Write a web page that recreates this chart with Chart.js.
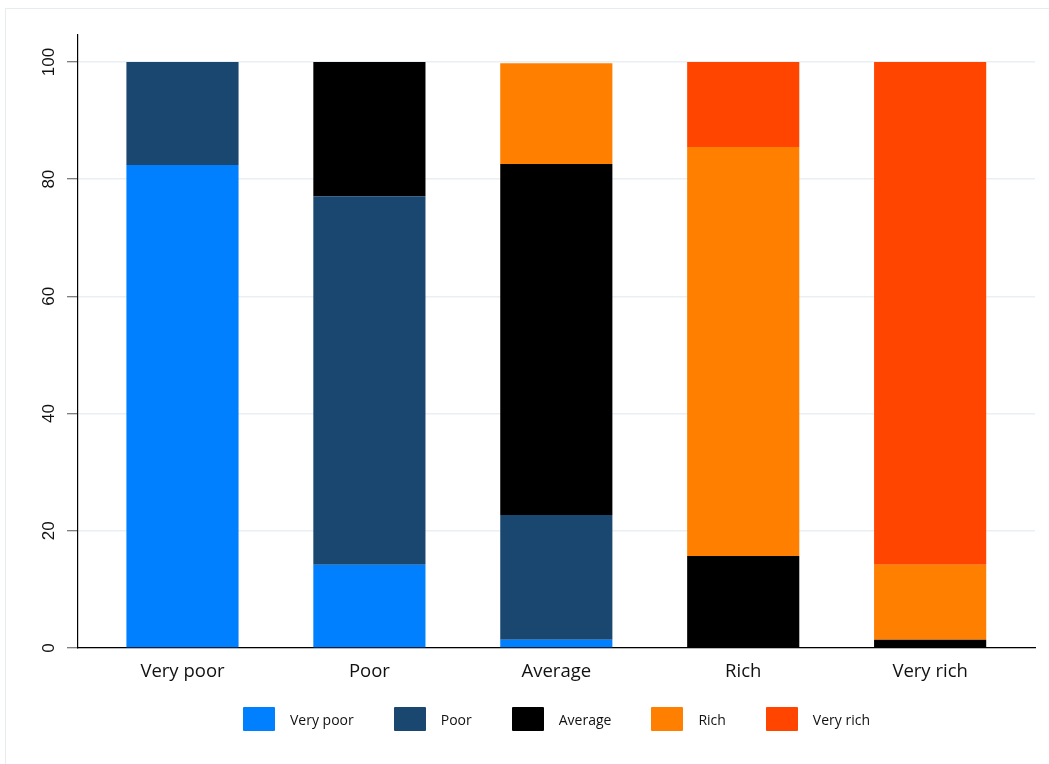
<!DOCTYPE html>
<html>
<head>
<meta charset="utf-8">
<script src="https://cdn.jsdelivr.net/npm/chart.js@4.4.1/dist/chart.umd.min.js"></script>
<style>
  html, body { margin: 0; padding: 0; background: #fff; }
  #wrap { position: relative; width: 1049px; height: 764px; overflow: hidden; }
  #frame { position: absolute; left: 5px; top: 8px; width: 1100px; height: 800px; border: 1px solid #e6edf1; box-sizing: border-box; }
  #chart { position: absolute; left: 0; top: 0; }
  #legend { position: absolute; left: 243px; top: 707px; display: flex; align-items: center; font-family: "Open Sans", sans-serif; font-size: 14px; color: #111; }
  #legend .item { display: flex; align-items: center; margin-right: 40px; }
  #legend .box { width: 32px; height: 24px; margin-right: 15px; border-radius: 1px; }
</style>
</head>
<body>
<div id="wrap">
  <div id="frame"></div>
  <canvas id="chart" width="1049" height="764"></canvas>
  <div id="legend"></div>
</div>
<script>
(function () {
    // -------- Data --------
    const categories = ["Very poor", "Poor", "Average", "Rich", "Very rich"];
    const seriesNames = ["Very poor", "Poor", "Average", "Rich", "Very rich"];
    const colors = ["#0080ff", "#1a476f", "#000000", "#ff7f00", "#ff4500"];

    const veryPoorVals = [82.4, 14.2, 1.4, 0, 0];
    const poorVals     = [17.6, 62.9, 21.3, 0, 0];
    const averageVals  = [0, 22.9, 59.9, 15.7, 1.4];
    const richVals     = [0, 0, 17.2, 69.8, 12.8];
    const veryRichVals = [0, 0, 0, 14.5, 85.8];

    const yTicks = [0, 20, 40, 60, 80, 100];

    const series = [veryPoorVals, poorVals, averageVals, richVals, veryRichVals];

    // -------- Datasets --------
    const datasets = series.map((vals, i) => ({
        label: seriesNames[i],
        data: vals.map((v, k) => ({ x: k, y: v })),
        backgroundColor: colors[i],
        borderWidth: 0,
        barPercentage: 0.6,
        categoryPercentage: 1
    }));

    const ctx = document.getElementById("chart");
    new Chart(ctx, {
        type: "bar",
        data: { datasets },
        options: {
            responsive: false,
            animation: false,
            layout: { padding: { top: 35, right: 14, left: 0, bottom: 0 } },
            plugins: { legend: { display: false }, tooltip: { enabled: false } },
            scales: {
                x: {
                    type: "linear",
                    stacked: true,
                    offset: false,
                    min: -0.559,
                    max: 4.561,
                    afterBuildTicks: s => { s.ticks = categories.map((_, i) => ({ value: i })); },
                    afterFit: s => { s.height = 116; },
                    grid: { display: false, drawTicks: false },
                    border: { display: true, color: "#000", width: 1.2 },
                    ticks: {
                        padding: 13,
                        maxRotation: 0,
                        autoSkip: false,
                        color: "#111",
                        font: { family: "'Open Sans', sans-serif", size: 18.5 },
                        callback: v => categories[v] ?? ""
                    }
                },
                y: {
                    stacked: true,
                    min: 0,
                    max: 104.6,
                    afterBuildTicks: s => { s.ticks = yTicks.map(v => ({ value: v })); },
                    afterFit: s => { s.width = 78; },
                    grid: { color: "#e9eff3", lineWidth: 1.5, tickLength: 11, tickColor: "#555", tickWidth: 1 },
                    border: { display: true, color: "#000", width: 1.2 },
                    ticks: {
                        padding: 4,
                        crossAlign: "center",
                        minRotation: 90,
                        maxRotation: 90,
                        color: "#111",
                        font: { family: "'Liberation Sans', Arial, sans-serif", size: 17 }
                    }
                }
            }
        }
    });

    // -------- Legend --------
    const legend = document.getElementById("legend");
    seriesNames.forEach((name, i) => {
        const item = document.createElement("div");
        item.className = "item";
        const box = document.createElement("span");
        box.className = "box";
        box.style.background = colors[i];
        const txt = document.createElement("span");
        txt.textContent = name;
        item.appendChild(box);
        item.appendChild(txt);
        legend.appendChild(item);
    });
})();
</script>
</body>
</html>
